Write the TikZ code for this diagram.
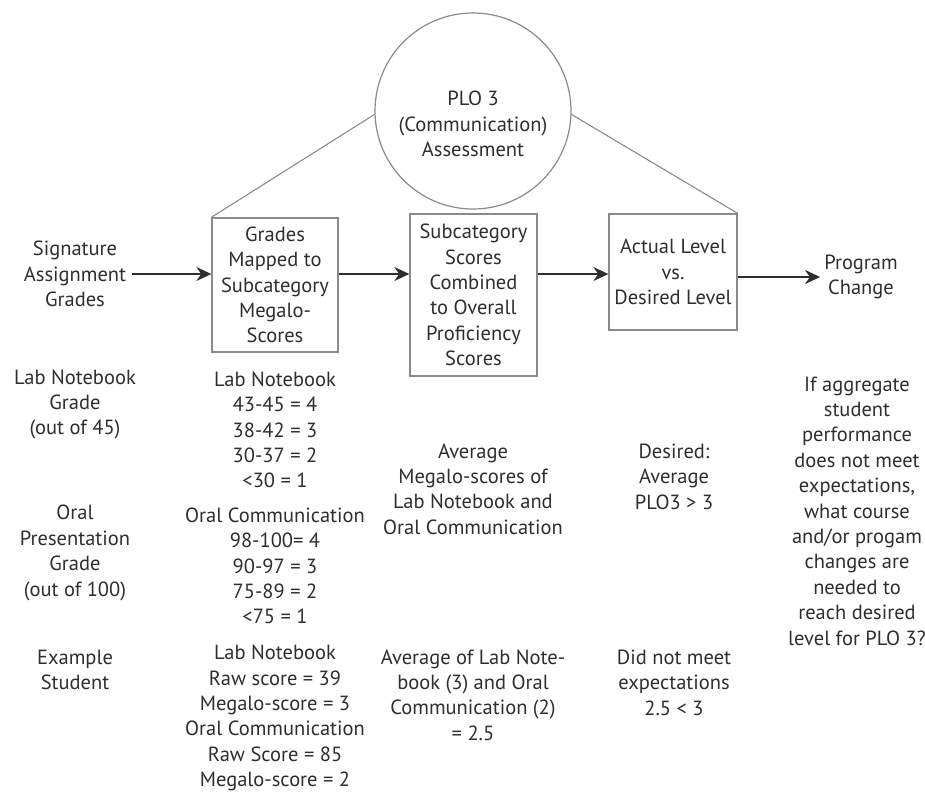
\documentclass[tikz,border=0pt]{standalone}
\usepackage{fontspec}
\setmainfont{PT Sans}
\usetikzlibrary{arrows.meta}
\definecolor{ink}{HTML}{2E2E2E}
\definecolor{rim}{HTML}{8A8A8A}
\tikzstyle{txt}=[align=center,text=ink,inner sep=4pt,font=\fontsize{20.5}{25.4}\selectfont]
\tikzstyle{stage}=[txt,draw=rim,line width=1.3,inner sep=2pt]
\tikzstyle{link}=[draw=rim,line width=1.1]
\tikzstyle{flow}=[draw=ink,line width=1.4,-{Stealth[length=15,width=14]}]

\begin{document}
\begin{tikzpicture}[x=1pt,y=-1pt]
  \useasboundingbox (0,0) rectangle (925,793);

  % the assessment circle
  \node[circle,draw=rim,line width=1.2,minimum size=196] (plo) at (473,111) {};
  \node[txt] (plotxt) at (473,124) {PLO 3\\(Communication)\\Assessment};

  % the three stages
  \node[stage,minimum width=126,minimum height=134] (grades) at (275,285)
    {Grades\\Mapped to\\Subcategory\\Megalo-\\Scores};
  \node[stage,minimum width=127,minimum height=162] (combined) at (473.5,295)
    {Subcategory\\Scores\\Combined\\to Overall\\Proficiency\\Scores};
  \node[stage,minimum width=128,minimum height=116] (level) at (673,272)
    {Actual Level\\vs.\\Desired Level};

  % start and end of the flow
  \node[txt,inner sep=6pt] (sig) at (75,274) {Signature\\Assignment\\Grades};
  \node[txt] (prog) at (861,277) {Program\\Change};

  % lines from the circle to the outer stages
  \path[link] (plo.182) -- (grades.north west);
  \path[link] (plo.-2) -- (level.north east);

  % arrows along the flow
  \draw[flow] (sig.east) -- (sig.east -| grades.west);
  \draw[flow] (grades.east |- sig.east) -- (combined.west |- sig.east);
  \draw[flow] (combined.east |- sig.east) -- (level.west |- sig.east);
  \draw[flow,line width=2.2] (level.east |- prog.west) -- (prog.west);

  % rows of explanation under each column
  \node[txt] (labgrade) at (75,404.5) {Lab Notebook\\Grade\\(out of 45)};
  \node[txt] (oralgrade) at (75,553) {Oral\\Presentation\\Grade\\(out of 100)};
  \node[txt] (example) at (75,670) {Example\\Student};

  \node[txt] (labmap) at (275,430) {Lab Notebook\\43-45 = 4\\38-42 = 3\\30-37 = 2\\<30 = 1};
  \node[txt] (oralmap) at (275,566) {Oral Communication\\98-100= 4\\90-97 = 3\\75-89 = 2\\<75 = 1};
  \node[txt] (examplemap) at (275,718) {Lab Notebook\\Raw score = 39\\Megalo-score = 3\\Oral Communication\\Raw Score = 85\\Megalo-score = 2};

  \node[txt] (avg) at (473,489) {Average\\Megalo-scores of\\Lab Notebook and\\Oral Communication};
  \node[txt] (exampleavg) at (473,695) {Average of Lab Note-\\book (3) and Oral\\Communication (2)\\= 2.5};

  \node[txt] (desired) at (674,476.5) {Desired:\\Average\\PLO3 > 3};
  \node[txt] (examplelevel) at (674,682.5) {Did not meet\\expectations\\2.5 < 3};

  \node[txt] (change) at (857,511) {If aggregate\\student\\performance\\does not meet\\expectations,\\what course\\and/or progam\\changes are\\needed to\\reach desired\\level for PLO 3?};
\end{tikzpicture}
\end{document}
